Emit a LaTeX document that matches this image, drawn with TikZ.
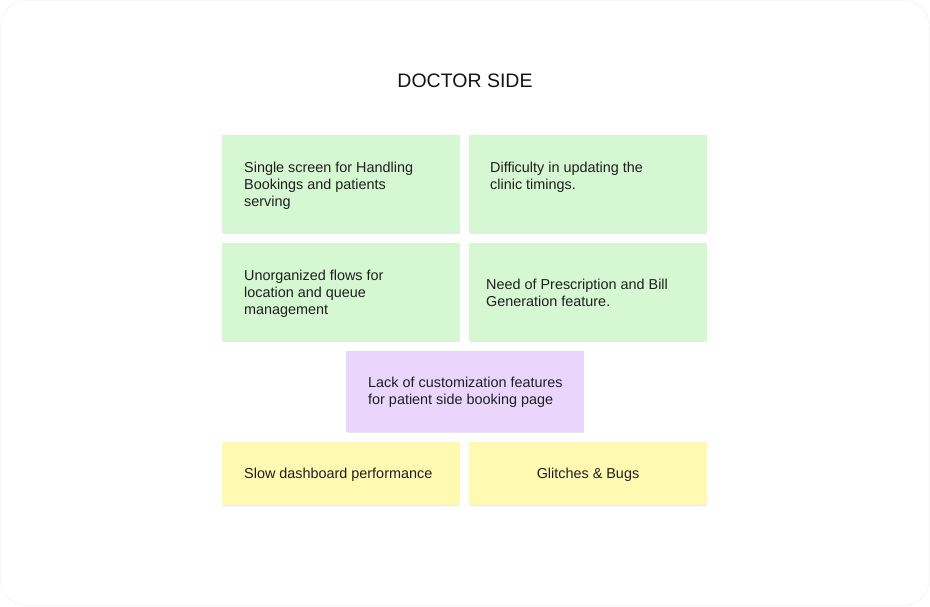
\documentclass[tikz,border=0pt]{standalone}
\usepackage{fontspec}
\setmainfont{Liberation Sans}
\begin{document}
\begin{tikzpicture}[x=1pt,y=-1pt,
  txt/.style={inner sep=0pt,align=left,anchor=west,font=\fontsize{14.4}{17}\selectfont,text=black!88},
  ctxt/.style={inner sep=0pt,align=center,anchor=center,font=\fontsize{14.4}{17}\selectfont,text=black!88}]
\definecolor{sgreen}{RGB}{213,247,209}
\definecolor{spurple}{RGB}{234,214,252}
\definecolor{syellow}{RGB}{255,249,177}
\useasboundingbox (0,0) rectangle (930,606);
\draw[draw=black!4,line width=0.8pt,rounded corners=26pt,fill=white] (0.5,0.5) rectangle (929.5,605.5);
\node[inner sep=0pt,font=\fontsize{19.5}{22}\selectfont,text=black!92] (title) at (465,81) {DOCTOR SIDE};
% shadows
\foreach \a/\b/\c/\d in {222/135/460/233, 469/135/707/233, 222/243/460/341, 469/243/707/341, 346/351/584/432, 222/442/460/505, 469/442/707/505}{
  \fill[black!9] (\a+0.5,\d-1) rectangle (\c,\d+1.2);
}
\fill[sgreen] (222,135) rectangle (460,233) coordinate (g1);
\fill[sgreen] (469,135) rectangle (707,233) coordinate (g2);
\fill[sgreen] (222,243) rectangle (460,341) coordinate (g3);
\fill[sgreen] (469,243) rectangle (707,341) coordinate (g4);
\fill[spurple] (346,351) rectangle (584,432) coordinate (p1);
\fill[syellow] (222,442) rectangle (460,505) coordinate (y1);
\fill[syellow] (469,442) rectangle (707,505) coordinate (y2);
\node[txt] (t1) at (244,185.5) {Single screen for Handling\\Bookings and patients\\serving};
\node[txt] (t2) at (490,177) {Difficulty in updating the\\clinic timings.};
\node[txt] (t3) at (244,293.5) {Unorganized flows for\\location and queue\\management};
\node[txt] (t4) at (486,293) {Need of Prescription and Bill\\Generation feature.};
\node[txt] (t5) at (368,392.5) {Lack of customization features\\for patient side booking page};
\node[txt] (t6) at (244,475) {Slow dashboard performance};
\node[ctxt] (t7) at (588,475) {Glitches \& Bugs};
\end{tikzpicture}
\end{document}
